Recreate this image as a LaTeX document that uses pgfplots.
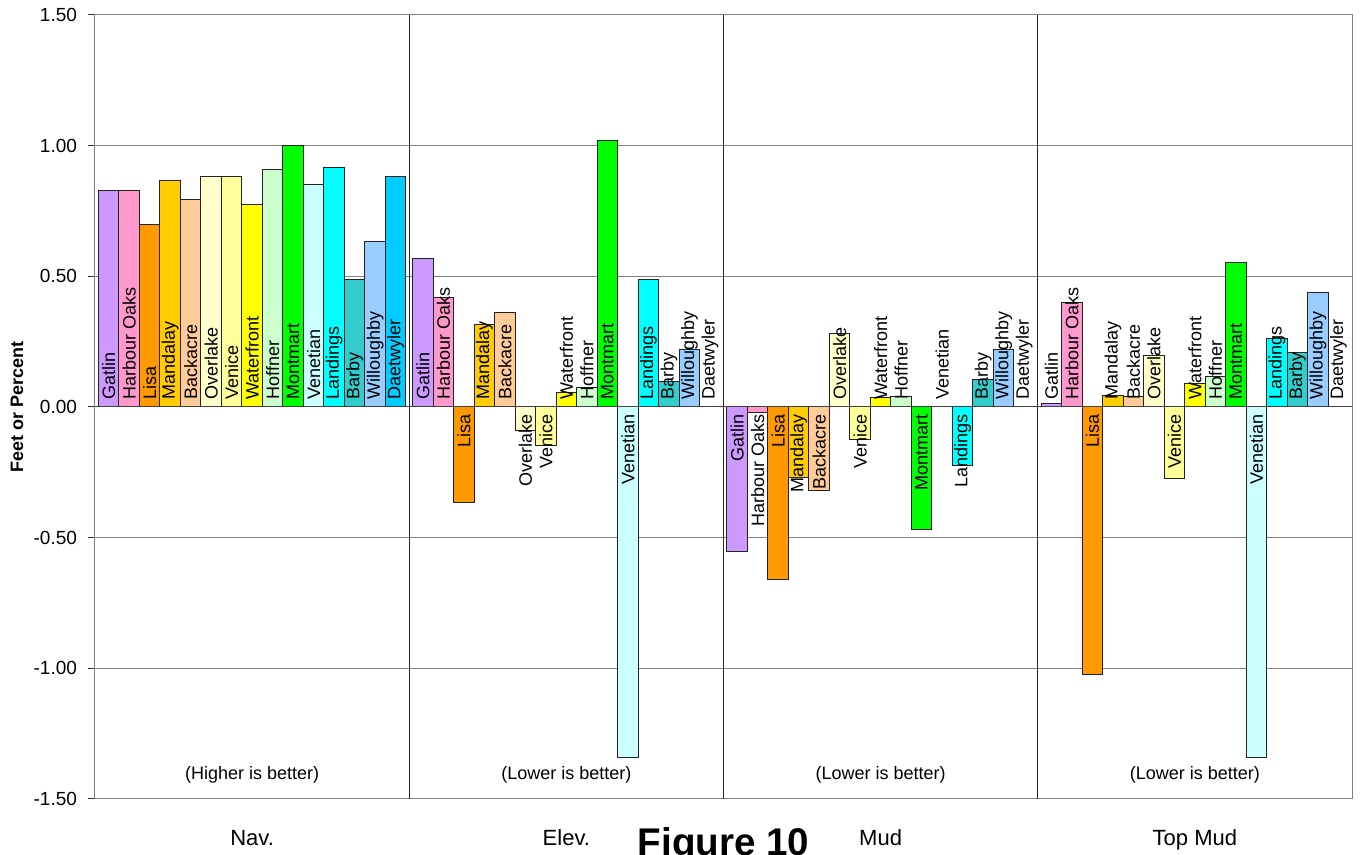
\documentclass[border=0pt]{standalone}
\usepackage{fontspec}
\setmainfont{Liberation Sans}
\usepackage{pgfplots}
\usepackage{pgfplotstable}
\pgfplotsset{compat=1.18}

% station colours
\definecolor{cGatlin}{HTML}{CC99FF}
\definecolor{cHarbour}{HTML}{FF99CC}
\definecolor{cLisa}{HTML}{FF9900}
\definecolor{cMandalay}{HTML}{FFCC00}
\definecolor{cBackacre}{HTML}{FFCC99}
\definecolor{cOverlake}{HTML}{FFFFCC}
\definecolor{cVenice}{HTML}{FFFF99}
\definecolor{cWaterfront}{HTML}{FFFF00}
\definecolor{cHoffner}{HTML}{CCFFCC}
\definecolor{cMontmart}{HTML}{00FF00}
\definecolor{cVenetian}{HTML}{CCFFFF}
\definecolor{cLandings}{HTML}{00FFFF}
\definecolor{cBarby}{HTML}{33CCCC}
\definecolor{cWilloughby}{HTML}{99CCFF}
\definecolor{cDaetwyler}{HTML}{00CCFF}
\definecolor{gridgray}{HTML}{808080}
\definecolor{barline}{HTML}{222222}

% one row per measure, one column per station
\pgfplotstableread{
grp    Gatlin Harbour Lisa   Mandalay Backacre Overlake Venice Waterfront Hoffner Montmart Venetian Landings Barby Willoughby Daetwyler
Nav    0.830  0.827   0.697  0.866    0.795    0.881    0.881  0.776      0.910   1.000    0.853    0.917    0.486 0.635      0.881
Elev   0.569  0.420  -0.365  0.314    0.361   -0.091   -0.148  0.056      0.075   1.018   -1.342    0.486    0.097 0.221      0.000
Mud   -0.552 -0.022  -0.662 -0.269   -0.320    0.283   -0.124  0.037      0.041  -0.469    0.000   -0.223    0.107 0.221      0.000
TopMud 0.015  0.400  -1.022  0.045    0.041    0.198   -0.274  0.091      0.117   0.552   -1.342    0.264    0.209 0.439      0.000
}\results

% station names stand on the zero line: upward for positive bars, downward for negative ones
\tikzset{base anchor/.code={%
  \pgfmathfloatparsenumber{\rawy}%
  \pgfmathfloatgetflagstomacro\pgfmathresult\rawflag
  \ifnum\rawflag=2 \tikzset{anchor=east}\else\tikzset{anchor=west}\fi}}

% bar of one station in every group (#3 = position inside the group)
\newcommand\bars[3]{%
  \addplot[ybar, bar width=1, bar shift=0pt, fill=#2, draw=barline, line width=0.5pt]
    table[x expr=\coordindex*15.33+0.665+#3, y=#1]{\results};
}
% name of one station, written at the base of each of its bars
\newcommand\names[3]{%
  \addplot[draw=none, mark=none, nodes near coords={#2},
    visualization depends on={\thisrow{#1} \as \rawy},
    every node near coord/.append style={text=black, font=\fontsize{9}{10}\selectfont,
      rotate=90, inner xsep=3.5pt, inner ysep=0pt, base anchor}]
    table[x expr=\coordindex*15.33+0.665+#3, y expr=0]{\results};
}

\begin{document}
\begin{tikzpicture}
\begin{axis}[
  name=ax,
  scale only axis, width=628.5pt, height=392pt,
  xmin=0, xmax=61.32, ymin=-1.5, ymax=1.5,
  clip=false,
  axis line style={color=gridgray, line width=0.5pt},
  ymajorgrids, grid style={color=gridgray, line width=0.5pt},
  ytick={-1.5,-1,-0.5,0,0.5,1,1.5},
  tick pos=left, tick align=outside, major tick length=3.5pt,
  ytick style={color=black!80, line width=0.5pt},
  yticklabel style={font=\fontsize{9.5}{11}\selectfont, xshift=-2pt,
    /pgf/number format/.cd, fixed, fixed zerofill, precision=2, assume math mode=true},
  xtick={7.665,22.995,38.325,53.655},
  xticklabels={Nav.,Elev.,Mud,Top Mud},
  xtick style={draw=none},
  xticklabel style={font=\fontsize{11}{13}\selectfont, anchor=base, yshift=-20pt},
  extra x ticks={15.33,30.66,45.99},
  extra x tick labels={},
  extra x tick style={grid=major, major grid style={color=black!85, line width=0.5pt}},
  ylabel={Feet or Percent},
  ylabel style={font=\bfseries\fontsize{9}{10}\selectfont,
    at={(axis description cs:-0.0621,0.5)}, anchor=center},
]
\bars{Gatlin}{cGatlin}{0}
\bars{Harbour}{cHarbour}{1}
\bars{Lisa}{cLisa}{2}
\bars{Mandalay}{cMandalay}{3}
\bars{Backacre}{cBackacre}{4}
\bars{Overlake}{cOverlake}{5}
\bars{Venice}{cVenice}{6}
\bars{Waterfront}{cWaterfront}{7}
\bars{Hoffner}{cHoffner}{8}
\bars{Montmart}{cMontmart}{9}
\bars{Venetian}{cVenetian}{10}
\bars{Landings}{cLandings}{11}
\bars{Barby}{cBarby}{12}
\bars{Willoughby}{cWilloughby}{13}
\bars{Daetwyler}{cDaetwyler}{14}

\names{Gatlin}{Gatlin}{0}
\names{Harbour}{Harbour Oaks}{1}
\names{Lisa}{Lisa}{2}
\names{Mandalay}{Mandalay}{3}
\names{Backacre}{Backacre}{4}
\names{Overlake}{Overlake}{5}
\names{Venice}{Venice}{6}
\names{Waterfront}{Waterfront}{7}
\names{Hoffner}{Hoffner}{8}
\names{Montmart}{Montmart}{9}
\names{Venetian}{Venetian}{10}
\names{Landings}{Landings}{11}
\names{Barby}{Barby}{12}
\names{Willoughby}{Willoughby}{13}
\names{Daetwyler}{Daetwyler}{14}

% category axis along zero
\draw[color=black!75, line width=0.5pt] (axis cs:0,0) -- (axis cs:61.32,0);

% reading hints in each group
\node[anchor=base, font=\fontsize{9}{10}\selectfont, yshift=9.5pt] at (axis cs:7.665,-1.5) {(Higher is better)};
\node[anchor=base, font=\fontsize{9}{10}\selectfont, yshift=9.5pt] at (axis cs:22.995,-1.5) {(Lower is better)};
\node[anchor=base, font=\fontsize{9}{10}\selectfont, yshift=9.5pt] at (axis cs:38.325,-1.5) {(Lower is better)};
\node[anchor=base, font=\fontsize{9}{10}\selectfont, yshift=9.5pt] at (axis cs:53.655,-1.5) {(Lower is better)};

\node[anchor=base, font=\bfseries\fontsize{19.3}{22}\selectfont, yshift=-28.5pt] at (axis cs:30.66,-1.5) {Figure 10};
\end{axis}
\pgfresetboundingbox
\path[use as bounding box] ([xshift=-47.5pt,yshift=-28pt]ax.south west) rectangle ([xshift=6pt,yshift=7.5pt]ax.north east);
\end{tikzpicture}
\end{document}
